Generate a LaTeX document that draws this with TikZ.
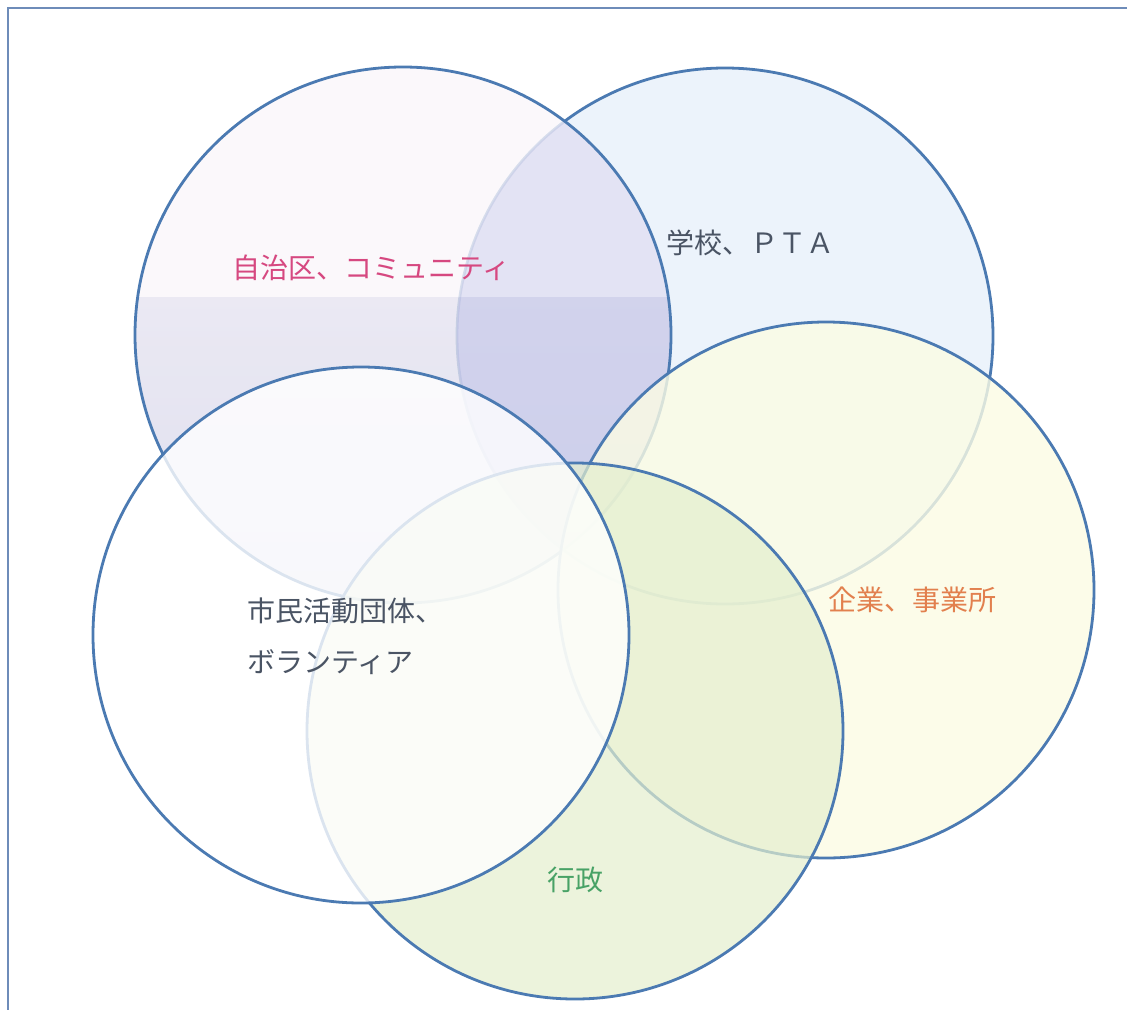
\documentclass[tikz,border=0pt]{standalone}
\usepackage{fontspec}
\newfontfamily\jp{Noto Sans CJK JP}
\definecolor{lineblue}{RGB}{75,122,178}
\definecolor{framecol}{RGB}{110,140,185}
\definecolor{ctwo}{RGB}{232,240,250}
\definecolor{conetop}{RGB}{251,247,251}
\definecolor{conemid}{RGB}{230,228,240}
\definecolor{conebot}{RGB}{214,214,236}
\definecolor{conetwo}{RGB}{190,192,232}
\definecolor{cthree}{RGB}{252,252,228}
\definecolor{cfive}{RGB}{228,239,206}
\definecolor{pinktxt}{RGB}{214,72,128}
\definecolor{graytxt}{RGB}{74,84,100}
\definecolor{orangetxt}{RGB}{226,128,78}
\definecolor{greentxt}{RGB}{72,162,102}
\tikzset{
  ring/.style={circle, draw=lineblue, line width=2.8pt, minimum size=536pt, inner sep=0pt},
  lbl/.style={font=\jp\fontsize{28}{32}\selectfont, inner sep=0pt, anchor=west}
}
\begin{document}
\begin{tikzpicture}[x=1pt,y=1pt]
\useasboundingbox (0,0) rectangle (1127,-1010);
\fill[white] (0,0) rectangle (1127,-1010);
% frame (top and left edges visible)
\coordinate (ftl) at (8,-8);
\coordinate (ftr) at (1127,-8);
\coordinate (fbl) at (8,-1010);
\draw[framecol, line width=1.6pt] (ftr) -- (ftl) -- (fbl);
% circle 2 : school
\node[ring, fill=ctwo, fill opacity=0.8] (c2) at (725,-336) {};
% circle 1 : community (shaded)
\begin{scope}
  \clip (403,-335) circle[radius=268pt];
  \fill[conetop, fill opacity=0.8] (130,-60) rectangle (680,-297);
  \shade[top color=conemid, bottom color=conebot, opacity=0.8] (130,-297) rectangle (680,-610);
  \clip (725,-336) circle[radius=268pt];
  \fill[conetwo, fill opacity=0.35] (430,-60) rectangle (680,-297);
  \fill[conetwo, fill opacity=0.5] (430,-297) rectangle (680,-610);
\end{scope}
\node[ring] (c1) at (403,-335) {};
% circle 3 : companies
\node[ring, fill=cthree, fill opacity=0.8] (c3) at (826,-590) {};
% circle 5 : administration
\node[ring, fill=cfive, fill opacity=0.7] (c5) at (575,-731) {};
% circle 4 : citizens
\node[ring, fill=white, fill opacity=0.8] (c4) at (361,-635) {};
% labels
\node[lbl, text=pinktxt] (t1) at (232,-268) {自治区、コミュニティ};
\node[lbl, text=graytxt] (t2) at (666,-243) {学校、ＰＴＡ};
\node[lbl, text=graytxt] (t3) at (247,-611) {市民活動団体、};
\node[lbl, text=graytxt] (t4) at (247,-662) {ボランティア};
\node[lbl, text=orangetxt] (t5) at (828,-600) {企業、事業所};
\node[lbl, text=greentxt] (t6) at (547,-880) {行政};
\end{tikzpicture}
\end{document}
